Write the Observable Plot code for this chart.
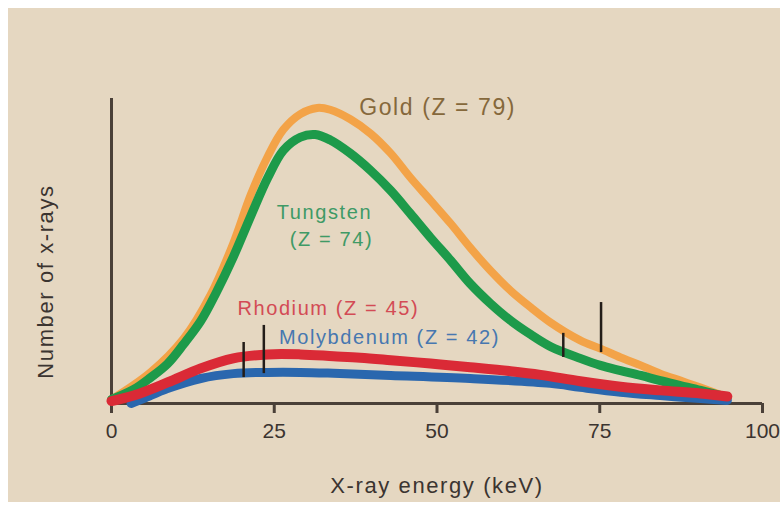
<!DOCTYPE html>
<html><head><meta charset="utf-8">
<script src="https://cdn.jsdelivr.net/npm/d3@7"></script>
<script src="https://cdn.jsdelivr.net/npm/@observablehq/plot@0.6"></script>
<style>
html,body{margin:0;padding:0;background:#ffffff;}
#wrap{position:relative;width:780px;height:508px;overflow:hidden;}
#bg{position:absolute;left:8px;top:8px;width:772px;height:494px;background:#e5d7c1;}
#chart{position:absolute;left:0;top:0;}
</style></head><body>
<div id="wrap"><div id="bg"></div><div id="chart"></div></div>
<script>
// ---- data ----
const xTicks = [0, 25, 50, 75, 100];
const xLabel = "X-ray energy (keV)";
const yLabel = "Number of x-rays";

const goldEnergy = [0, 6.0, 11.1, 15.2, 18.7, 21.4, 24.0, 26.4, 29.0, 31.6, 33.6, 36.7, 39.8, 42.9, 45.9, 49.0, 52.1, 55.1, 58.2, 61.3, 64.4, 67.4, 72.0, 75.1, 78.2, 81.3, 84.3, 87.4, 90.5, 94.6];
const goldCount  = [1.3, 10.2, 21.3, 35.5, 52.5, 68.5, 81.0, 89.8, 94.9, 96.9, 96.3, 93.2, 88.5, 82.0, 74.1, 66.6, 59.0, 51.1, 43.6, 37.0, 31.5, 26.6, 20.7, 18.0, 15.1, 12.5, 9.8, 7.5, 5.2, 2.0];

const tungstenEnergy = [0, 3.4, 6.0, 8.6, 11.1, 13.7, 16.0, 18.7, 21.4, 24.0, 26.4, 29.0, 31.3, 33.6, 36.7, 39.8, 42.9, 45.9, 49.0, 52.1, 55.1, 58.2, 61.3, 64.4, 67.4, 72.0, 75.1, 78.2, 81.3, 84.3, 87.4, 90.5, 94.6];
const tungstenCount  = [1.3, 4.6, 8.5, 13.0, 19.5, 27.0, 36.0, 48.0, 61.5, 74.0, 83.0, 87.3, 88.2, 86.4, 82.0, 76.4, 69.8, 62.3, 54.4, 46.9, 39.3, 32.8, 27.2, 22.6, 18.7, 14.8, 12.5, 10.8, 9.2, 7.5, 5.9, 4.3, 2.0];

const rhodiumEnergy = [0, 3.4, 8.6, 13.7, 18.7, 24.0, 29.0, 34.1, 38.2, 42.9, 49.0, 55.1, 61.3, 65.9, 72.0, 78.2, 84.3, 90.5, 94.6];
const rhodiumCount  = [0.8, 2.6, 6.9, 11.5, 14.8, 16.1, 16.1, 15.5, 15.0, 14.2, 13.1, 11.9, 10.6, 9.4, 7.3, 5.5, 4.3, 3.3, 2.3];

const molybdenumEnergy = [3.0, 4.9, 8.6, 13.7, 18.7, 24.0, 29.0, 34.1, 42.9, 55.1, 67.4, 72.0, 78.2, 84.3, 90.5, 94.6];
const molybdenumCount  = [0, 1.6, 4.9, 8.2, 9.8, 10.2, 10.2, 9.9, 9.2, 8.2, 6.6, 5.3, 3.7, 2.6, 1.6, 1.0];

// characteristic emission lines: energy, lower and upper count
const lineEnergy = [20.3, 23.4, 69.4, 75.2];
const lineLow    = [8.5, 9.8, 15.1, 16.7];
const lineHigh   = [20.0, 25.6, 23.0, 33.1];

const labelText   = ["Gold (Z = 79)", "Tungsten", "(Z = 74)", "Rhodium (Z = 45)", "Molybdenum (Z = 42)"];
const labelEnergy = [50.1, 32.7, 33.8, 33.3, 42.7];
const labelCount  = [97.0, 62.6, 53.8, 31.1, 21.6];
const labelColor  = ["#85683b", "#3f9a66", "#3f9a66", "#d34b55", "#4777b0"];
const labelSize   = [23, 20, 20, 20, 20];

// ---- build tables ----
const rows = (E, N) => E.map((e, i) => ({energy: e, count: N[i]}));
const gold = rows(goldEnergy, goldCount);
const tungsten = rows(tungstenEnergy, tungstenCount);
const rhodium = rows(rhodiumEnergy, rhodiumCount);
const molybdenum = rows(molybdenumEnergy, molybdenumCount);
const emission = lineEnergy.map((e, i) => ({energy: e, lo: lineLow[i], hi: lineHigh[i]}));
const labels = labelText.map((t, i) => ({text: t, energy: labelEnergy[i], count: labelCount[i], color: labelColor[i], size: labelSize[i]}));

const axisColor = "#4a4038";
const textColor = "#3b3430";
const curve = "catmull-rom";

const plot = Plot.plot({
  width: 780, height: 508,
  marginLeft: 111, marginRight: 18, marginTop: 98, marginBottom: 105,
  style: {background: "transparent", fontFamily: "'Liberation Sans', Arial, sans-serif", letterSpacing: "1.6px", overflow: "visible"},
  x: {domain: [0, 100]},
  y: {domain: [0, 100], axis: null},
  marks: [
    Plot.ruleY([0], {x1: 0, x2: 100, stroke: axisColor, strokeWidth: 3}),
    Plot.ruleX([0], {y1: 0, y2: 100, stroke: axisColor, strokeWidth: 3}),
    Plot.axisX({ticks: xTicks, tickSize: 10, tickPadding: 10, fontSize: 21, stroke: axisColor, strokeWidth: 3, fill: textColor, tickFormat: d => String(d), label: null}),
    Plot.line(gold, {x: "energy", y: "count", stroke: "#f3a348", strokeWidth: 8, curve}),
    Plot.line(tungsten, {x: "energy", y: "count", stroke: "#1d9a4a", strokeWidth: 9, curve}),
    Plot.line(molybdenum, {x: "energy", y: "count", stroke: "#2a67ae", strokeWidth: 9, curve}),
    Plot.line(rhodium, {x: "energy", y: "count", stroke: "#da2a36", strokeWidth: 10, curve}),
    Plot.ruleX(emission, {x: "energy", y1: "lo", y2: "hi", stroke: "#231d19", strokeWidth: 2.5}),
    Plot.text(labels, {x: "energy", y: "count", text: "text", fill: "color", fontSize: "size", textAnchor: "middle", lineAnchor: "middle"}),
    Plot.text([xLabel], {x: () => 50, y: () => 0, text: d => d, dy: 82, fontSize: 22, fill: textColor, lineAnchor: "middle"}),
    Plot.text([yLabel], {x: () => 0, y: () => 40, text: d => d, dx: -66, rotate: -90, fontSize: 22, fill: textColor, lineAnchor: "middle"})
  ]
});
// tick labels without extra tracking so "100" fits at the right edge
d3.select(plot).selectAll('g[aria-label="x-axis tick label"]').style("letter-spacing", "0px");
document.getElementById("chart").appendChild(plot);
</script>
</body></html>
